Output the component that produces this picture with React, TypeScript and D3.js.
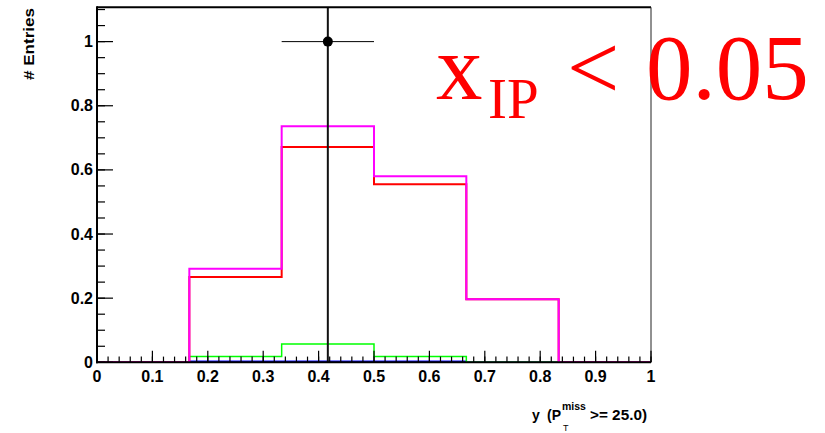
import React from "react";
import * as d3 from "d3";

const binEdges = [0, 0.16667, 0.33333, 0.5, 0.66667, 0.83333, 1];
const magentaValues = [0, 0.292, 0.736, 0.58, 0.197, 0];
const redValues = [0, 0.266, 0.671, 0.555, 0.197, 0];
const greenValues = [0, 0.018, 0.057, 0.018, 0, 0];
const blueValues = [0, 0.003, 0.003, 0.003, 0, 0];

const dataX = [0.41667];
const dataY = [1];
const dataEx = [0.08333];
const dataEy = [1];

const xTickValues = [0, 0.1, 0.2, 0.3, 0.4, 0.5, 0.6, 0.7, 0.8, 0.9, 1];
const xTickLabels = ["0", "0.1", "0.2", "0.3", "0.4", "0.5", "0.6", "0.7", "0.8", "0.9", "1"];
const yTickValues = [0, 0.2, 0.4, 0.6, 0.8, 1];
const yTickLabels = ["0", "0.2", "0.4", "0.6", "0.8", "1"];

const W = 825;
const H = 433;
const L = 97;
const R = 651;
const T = 7.3;
const B = 362.3;
const Y_MAX = 1.107;

export default function App() {
  const x = d3.scaleLinear().domain([0, 1]).range([L, R]);
  const y = d3.scaleLinear().domain([0, Y_MAX]).range([B, T]);

  const stepPath = (vals: number[]) => {
    const pts: [number, number][] = [[binEdges[0], 0]];
    vals.forEach((v, i) => {
      pts.push([binEdges[i], v]);
      pts.push([binEdges[i + 1], v]);
    });
    pts.push([binEdges[binEdges.length - 1], 0]);
    return d3
      .line<[number, number]>()
      .x((d) => x(d[0]))
      .y((d) => y(d[1]))(pts) as string;
  };

  const xMinor = d3.range(0, 1.0001, 0.02);
  const yMinor = d3.range(0, Y_MAX, 0.05);

  const sans = "'Liberation Sans', Arial, sans-serif";
  const serif = "'Liberation Serif', 'Times New Roman', serif";

  return (
    <svg
      width={W}
      height={H}
      style={{ position: "absolute", left: 0, top: 0, background: "#fff" }}
    >
      <defs>
        <clipPath id="frame">
          <rect x={L} y={T} width={R - L} height={B - T} />
        </clipPath>
      </defs>
      <rect x={0} y={0} width={W} height={H} fill="#fff" />

      <g clipPath="url(#frame)" fill="none">
        <path d={stepPath(blueValues)} stroke="#0000ff" strokeWidth={1.5} />
        <path d={stepPath(greenValues)} stroke="#00ff00" strokeWidth={1.5} />
        <path d={stepPath(redValues)} stroke="#ff0000" strokeWidth={2} />
        <path d={stepPath(magentaValues)} stroke="#ff00ff" strokeWidth={2} />
        {dataX.map((dx, i) => (
          <g key={i}>
            <line
              x1={x(dx)}
              x2={x(dx)}
              y1={y(dataY[i] - dataEy[i])}
              y2={y(dataY[i] + dataEy[i])}
              stroke="#111"
              strokeWidth={2}
            />
            <line
              x1={x(dx - dataEx[i])}
              x2={x(dx + dataEx[i])}
              y1={y(dataY[i])}
              y2={y(dataY[i])}
              stroke="#000"
              strokeWidth={1}
            />
            <circle cx={x(dx)} cy={y(dataY[i])} r={5} fill="#000" />
          </g>
        ))}
      </g>

      {/* frame */}
      <line x1={L} x2={R} y1={T} y2={T} stroke="#000" strokeWidth={2} />
      <line x1={R} x2={R} y1={T} y2={B} stroke="#222" strokeWidth={1} />

      {/* x axis */}
      {xMinor.map((v, i) => (
        <line key={"xm" + i} x1={x(v)} x2={x(v)} y1={B} y2={B - 5.7} stroke="#000" strokeWidth={1.2} />
      ))}
      {xTickValues.map((v, i) => (
        <line key={"xM" + i} x1={x(v)} x2={x(v)} y1={B} y2={B - 11.5} stroke="#000" strokeWidth={1.2} />
      ))}
      <line x1={L - 1} x2={R} y1={B} y2={B} stroke="#000" strokeWidth={2} />
      {xTickValues.map((v, i) => (
        <text
          key={"xl" + i}
          x={x(v)}
          y={381.5}
          textAnchor="middle"
          fontFamily={sans}
          fontWeight="bold"
          fontSize={16}
          fill="#000"
        >
          {xTickLabels[i]}
        </text>
      ))}

      {/* y axis */}
      {yMinor.map((v, i) => (
        <line key={"ym" + i} x1={L} x2={L + 8} y1={y(v)} y2={y(v)} stroke="#000" strokeWidth={1.2} />
      ))}
      {yTickValues.map((v, i) => (
        <line key={"yM" + i} x1={L} x2={L + 16} y1={y(v)} y2={y(v)} stroke="#000" strokeWidth={1.2} />
      ))}
      <line x1={L} x2={L} y1={T - 1} y2={B + 1} stroke="#000" strokeWidth={2} />
      {yTickValues.map((v, i) => (
        <text
          key={"yl" + i}
          x={93}
          y={y(v) + 5.5}
          textAnchor="end"
          fontFamily={sans}
          fontWeight="bold"
          fontSize={16}
          fill="#000"
        >
          {yTickLabels[i]}
        </text>
      ))}

      {/* axis titles */}
      <text
        transform="translate(34,8) rotate(-90)"
        textAnchor="end"
        fontFamily={sans}
        fontWeight="bold"
        fontSize={14}
        textLength={72}
        lengthAdjust="spacingAndGlyphs"
        fill="#000"
      >
        # Entries
      </text>
      <text x={532} y={420} fontFamily={sans} fontWeight="bold" fontSize={14} fill="#000">
        y
      </text>
      <text x={547} y={420} fontFamily={sans} fontWeight="bold" fontSize={14} fill="#000">
        (P
      </text>
      <text x={563} y={431} fontFamily={sans} fontSize={9} fill="#000">
        T
      </text>
      <text x={562} y={410} fontFamily={sans} fontWeight="bold" fontSize={10.5} fill="#000">
        miss
      </text>
      <text
        x={647}
        y={420}
        textAnchor="end"
        fontFamily={sans}
        fontWeight="bold"
        fontSize={14}
        fill="#000"
        textLength={57}
        lengthAdjust="spacingAndGlyphs"
      >
        {">= 25.0)"}
      </text>

      {/* annotation */}
      <g fill="#ff0000" fontFamily={serif}>
        <text x={436} y={99} fontSize={93}>x</text>
        <text x={488} y={118} fontSize={57}>IP</text>
        <text x={567} y={99} fontSize={93}>&lt;</text>
        <text x={646} y={99} fontSize={93}>0.05</text>
      </g>
    </svg>
  );
}
